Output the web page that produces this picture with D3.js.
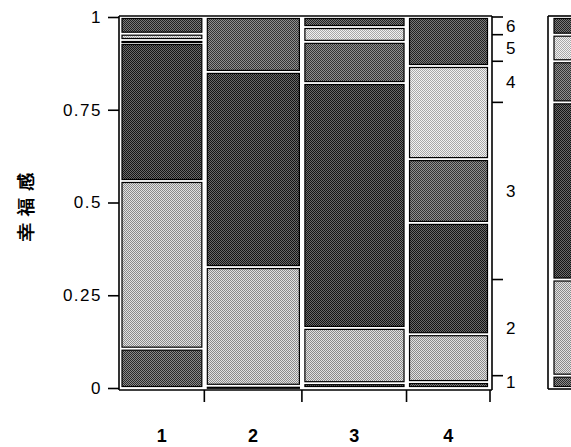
<!DOCTYPE html>
<html>
<head>
<meta charset="utf-8">
<script src="https://cdn.jsdelivr.net/npm/d3@7"></script>
<style>
  html, body { margin: 0; padding: 0; background: #fff; }
  svg { display: block; }
  text { font-family: "Liberation Sans", Arial, sans-serif; fill: #000; }
</style>
</head>
<body>
<svg id="chart" width="571" height="447"></svg>
<script>
// ---- data ----
const groups = ["1", "2", "3", "4"];                 // x categories
const groupShares = [0.230, 0.263, 0.282, 0.225];    // column widths (share of all cases)
const levels = ["1", "2", "3", "4", "5", "6"];       // happiness levels (bottom to top)
// conditional share of each level within each group
const shares1 = [0.106, 0.452, 0.372, 0.008, 0.017, 0.045];
const shares2 = [0.006, 0.320, 0.526, 0.148, 0.000, 0.000];
const shares3 = [0.013, 0.149, 0.660, 0.111, 0.040, 0.027];
const shares4 = [0.016, 0.129, 0.300, 0.172, 0.251, 0.132];
const yTicks = [0, 0.25, 0.5, 0.75, 1];
const yTickLabels = ["0", "0.25", "0.5", "0.75", "1"];
const yTitle = "幸福感";
// two tones per level (halftone look): [dark dot, light dot]
const levelTonesA = ["#2a2a2a", "#8a8a8a", "#141414", "#333333", "#a8a8a8", "#222222"];
const levelTonesB = ["#8a8a8a", "#e2e2e2", "#6a6a6a", "#909090", "#f2f2f2", "#7a7a7a"];

const shareRows = [shares1, shares2, shares3, shares4];

(function () {
// ---- layout ----
const svg = d3.select("#chart");
const pLeft = 119, pRight = 490, pTop = 17, pBottom = 388;
const x = d3.scaleLinear().domain([0, 1]).range([pLeft, pRight]);
const y = d3.scaleLinear().domain([0, 1]).range([pBottom, pTop]);

// halftone patterns
const defs = svg.append("defs");
levels.forEach((l, j) => {
  const p = defs.append("pattern").attr("id", "pat" + j)
    .attr("patternUnits", "userSpaceOnUse").attr("width", 2).attr("height", 2);
  p.append("rect").attr("width", 2).attr("height", 2).attr("fill", levelTonesB[j]);
  p.append("rect").attr("x", 0).attr("y", 0).attr("width", 1).attr("height", 1).attr("fill", levelTonesA[j]);
  p.append("rect").attr("x", 1).attr("y", 1).attr("width", 1).attr("height", 1).attr("fill", levelTonesA[j]);
});
const fillOf = j => `url(#pat${j})`;

// column extents
let acc = 0;
const cols = groups.map((g, i) => {
  const c = { name: g, x0: acc, x1: acc + groupShares[i], shares: shareRows[i] };
  acc += groupShares[i];
  return c;
});

// marginal distribution of levels
const marginal = levels.map((l, j) => d3.sum(cols, c => (c.x1 - c.x0) * c.shares[j]));
const margTotal = d3.sum(marginal);

// ---- cells ----
const gCells = svg.append("g");
cols.forEach(c => {
  let s = 0;
  c.shares.forEach((v, j) => {
    if (v <= 0) { return; }
    const y0 = y(s), y1 = y(s + v);
    s += v;
    const px0 = x(c.x0) + 3, px1 = x(c.x1) - 2.5;
    const cy = y1 + 1.5, h = Math.max(y0 - y1 - 3, 1);
    gCells.append("rect")
      .attr("x", px0).attr("y", cy)
      .attr("width", px1 - px0).attr("height", h)
      .attr("fill", fillOf(j))
      .attr("stroke", "#000").attr("stroke-width", 1.2);
  });
});

// ---- frame ----
const frame = svg.append("g").attr("stroke", "#000").attr("stroke-width", 1.6).attr("fill", "none");
frame.append("line").attr("x1", pLeft).attr("x2", pLeft).attr("y1", pTop - 1).attr("y2", pBottom + 2);
frame.append("line").attr("x1", pLeft).attr("x2", pRight + 2).attr("y1", pTop - 1).attr("y2", pTop - 1);
frame.append("line").attr("x1", pLeft).attr("x2", pRight + 2).attr("y1", pBottom + 2).attr("y2", pBottom + 2);

// ---- left axis ----
const yAxis = d3.axisLeft(y).tickValues(yTicks).tickFormat((d, i) => yTickLabels[i]).tickSize(11).tickPadding(6);
const gy = svg.append("g").attr("transform", `translate(${pLeft},0)`).call(yAxis);
gy.select(".domain").remove();
gy.selectAll(".tick line").attr("stroke", "#000").attr("stroke-width", 1.6);
gy.selectAll(".tick text").attr("font-size", 17).attr("letter-spacing", 1.5)
  .attr("font-family", "'Liberation Sans', Arial, sans-serif");

// y title
svg.append("text")
  .attr("transform", "translate(26,203) rotate(-90)")
  .attr("text-anchor", "middle")
  .attr("dy", "0.35em")
  .attr("font-size", 18)
  .attr("font-weight", "bold")
  .attr("letter-spacing", 7)
  .attr("font-family", "'Noto Sans CJK SC', sans-serif")
  .text(yTitle);

// ---- bottom axis ----
const gx = svg.append("g");
cols.forEach(c => {
  gx.append("line").attr("x1", x(c.x1)).attr("x2", x(c.x1))
    .attr("y1", pBottom + 2).attr("y2", pBottom + 14)
    .attr("stroke", "#000").attr("stroke-width", 1.6);
  gx.append("text")
    .attr("x", x((c.x0 + c.x1) / 2)).attr("y", 442)
    .attr("text-anchor", "middle")
    .attr("font-size", 18).attr("font-weight", "bold")
    .text(c.name);
});

// ---- right axis (marginal) ----
const rx = 492;
const gr = svg.append("g");
gr.append("line").attr("x1", rx).attr("x2", rx).attr("y1", pTop - 1).attr("y2", pBottom + 2)
  .attr("stroke", "#000").attr("stroke-width", 1.6);
let m = 0;
const bounds = [0];
marginal.forEach(v => { m += v / margTotal; bounds.push(m); });
bounds.forEach((b, i) => {
  if (i === 0) return;
  gr.append("line").attr("x1", rx).attr("x2", rx + 11)
    .attr("y1", y(b)).attr("y2", y(b))
    .attr("stroke", "#000").attr("stroke-width", 1.6);
});
levels.forEach((l, j) => {
  gr.append("text")
    .attr("x", rx + 14).attr("y", y((bounds[j] + bounds[j + 1]) / 2))
    .attr("dy", "0.36em")
    .attr("font-size", 17)
    .text(l);
});

// ---- marginal strip ----
const sx = 548;
const gs = svg.append("g");
gs.append("line").attr("x1", sx).attr("x2", sx).attr("y1", pTop - 1).attr("y2", pBottom + 1)
  .attr("stroke", "#000").attr("stroke-width", 1.6);
gs.append("line").attr("x1", sx).attr("x2", 571).attr("y1", pTop - 1).attr("y2", pTop - 1)
  .attr("stroke", "#000").attr("stroke-width", 1.6);
gs.append("line").attr("x1", sx).attr("x2", 571).attr("y1", pBottom + 1).attr("y2", pBottom + 1)
  .attr("stroke", "#000").attr("stroke-width", 1.6);
levels.forEach((l, j) => {
  const y0 = y(bounds[j]), y1 = y(bounds[j + 1]);
  gs.append("rect")
    .attr("x", 554).attr("y", y1 + 1.5)
    .attr("width", 22).attr("height", Math.max(y0 - y1 - 3, 1))
    .attr("fill", fillOf(j))
    .attr("stroke", "#000").attr("stroke-width", 1.2);
});
})();
</script>
</body>
</html>
